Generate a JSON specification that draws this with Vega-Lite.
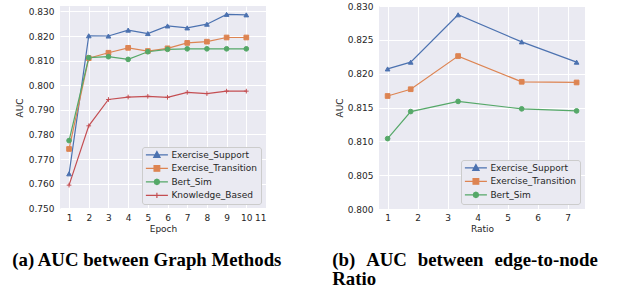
{
  "$schema": "https://vega.github.io/schema/vega-lite/v6.json",
  "background": "white",
  "padding": {"left": 12, "top": 2, "right": 0, "bottom": 0},
  "spacing": 49,
  "config": {
    "view": {"fill": "#eaeaf2", "stroke": null},
    "axis": {"grid": true, "gridColor": "#ffffff", "gridWidth": 1, "domain": false, "ticks": false, "labelFont": "DejaVu Sans", "labelFontSize": 9, "labelColor": "#262626", "titleFont": "DejaVu Sans", "titleFontSize": 9, "titleFontWeight": "normal", "titleColor": "#262626"},
    "legend": {"labelFont": "DejaVu Sans", "labelFontSize": 9, "labelColor": "#262626", "fillColor": "#eaeaf2", "strokeColor": "#cccccc", "cornerRadius": 2.5, "padding": 3.4, "rowPadding": 2.5, "symbolSize": 36, "symbolStrokeWidth": 1.2, "symbolOffset": 7, "labelOffset": 10, "symbolOpacity": 1, "orient": "bottom-right", "offset": 5, "title": null},
    "title": {"font": "Liberation Serif", "fontSize": 18.8, "fontWeight": "bold", "color": "#000000"}
  },
  "datasets": {
    "epoch": [
      {"Epoch": 1, "Method": "Exercise_Support", "AUC": 0.7640},
      {"Epoch": 2, "Method": "Exercise_Support", "AUC": 0.8201},
      {"Epoch": 3, "Method": "Exercise_Support", "AUC": 0.8200},
      {"Epoch": 4, "Method": "Exercise_Support", "AUC": 0.8224},
      {"Epoch": 5, "Method": "Exercise_Support", "AUC": 0.8210},
      {"Epoch": 6, "Method": "Exercise_Support", "AUC": 0.8241},
      {"Epoch": 7, "Method": "Exercise_Support", "AUC": 0.8233},
      {"Epoch": 8, "Method": "Exercise_Support", "AUC": 0.8248},
      {"Epoch": 9, "Method": "Exercise_Support", "AUC": 0.8288},
      {"Epoch": 10, "Method": "Exercise_Support", "AUC": 0.8286},
      {"Epoch": 1, "Method": "Exercise_Transition", "AUC": 0.7741},
      {"Epoch": 2, "Method": "Exercise_Transition", "AUC": 0.8110},
      {"Epoch": 3, "Method": "Exercise_Transition", "AUC": 0.8132},
      {"Epoch": 4, "Method": "Exercise_Transition", "AUC": 0.8152},
      {"Epoch": 5, "Method": "Exercise_Transition", "AUC": 0.8139},
      {"Epoch": 6, "Method": "Exercise_Transition", "AUC": 0.8150},
      {"Epoch": 7, "Method": "Exercise_Transition", "AUC": 0.8172},
      {"Epoch": 8, "Method": "Exercise_Transition", "AUC": 0.8177},
      {"Epoch": 9, "Method": "Exercise_Transition", "AUC": 0.8194},
      {"Epoch": 10, "Method": "Exercise_Transition", "AUC": 0.8194},
      {"Epoch": 1, "Method": "Bert_Sim", "AUC": 0.7775},
      {"Epoch": 2, "Method": "Bert_Sim", "AUC": 0.8112},
      {"Epoch": 3, "Method": "Bert_Sim", "AUC": 0.8116},
      {"Epoch": 4, "Method": "Bert_Sim", "AUC": 0.8105},
      {"Epoch": 5, "Method": "Bert_Sim", "AUC": 0.8136},
      {"Epoch": 6, "Method": "Bert_Sim", "AUC": 0.8146},
      {"Epoch": 7, "Method": "Bert_Sim", "AUC": 0.8148},
      {"Epoch": 8, "Method": "Bert_Sim", "AUC": 0.8148},
      {"Epoch": 9, "Method": "Bert_Sim", "AUC": 0.8148},
      {"Epoch": 10, "Method": "Bert_Sim", "AUC": 0.8148},
      {"Epoch": 1, "Method": "Knowledge_Based", "AUC": 0.7594},
      {"Epoch": 2, "Method": "Knowledge_Based", "AUC": 0.7835},
      {"Epoch": 3, "Method": "Knowledge_Based", "AUC": 0.7942},
      {"Epoch": 4, "Method": "Knowledge_Based", "AUC": 0.7952},
      {"Epoch": 5, "Method": "Knowledge_Based", "AUC": 0.7955},
      {"Epoch": 6, "Method": "Knowledge_Based", "AUC": 0.7951},
      {"Epoch": 7, "Method": "Knowledge_Based", "AUC": 0.7971},
      {"Epoch": 8, "Method": "Knowledge_Based", "AUC": 0.7966},
      {"Epoch": 9, "Method": "Knowledge_Based", "AUC": 0.7976},
      {"Epoch": 10, "Method": "Knowledge_Based", "AUC": 0.7976}
    ],
    "ratio": [
      {"Ratio": 1.0, "Method": "Exercise_Support", "AUC": 0.8207},
      {"Ratio": 1.77, "Method": "Exercise_Support", "AUC": 0.8217},
      {"Ratio": 3.35, "Method": "Exercise_Support", "AUC": 0.8287},
      {"Ratio": 5.47, "Method": "Exercise_Support", "AUC": 0.8247},
      {"Ratio": 7.3, "Method": "Exercise_Support", "AUC": 0.8217},
      {"Ratio": 1.0, "Method": "Exercise_Transition", "AUC": 0.8167},
      {"Ratio": 1.77, "Method": "Exercise_Transition", "AUC": 0.8177},
      {"Ratio": 3.35, "Method": "Exercise_Transition", "AUC": 0.8226},
      {"Ratio": 5.47, "Method": "Exercise_Transition", "AUC": 0.8188},
      {"Ratio": 7.3, "Method": "Exercise_Transition", "AUC": 0.8187},
      {"Ratio": 1.0, "Method": "Bert_Sim", "AUC": 0.8104},
      {"Ratio": 1.77, "Method": "Bert_Sim", "AUC": 0.8144},
      {"Ratio": 3.35, "Method": "Bert_Sim", "AUC": 0.8159},
      {"Ratio": 5.47, "Method": "Bert_Sim", "AUC": 0.8148},
      {"Ratio": 7.3, "Method": "Bert_Sim", "AUC": 0.8145}
    ]
  },
  "hconcat": [
    {
      "width": 206,
      "height": 203,
      "title": {"text": "(a) AUC between Graph Methods", "orient": "bottom", "anchor": "start", "frame": "bounds", "offset": 17.5, "dx": -3},
      "data": {"name": "epoch"},
      "encoding": {
        "x": {"field": "Epoch", "type": "quantitative", "scale": {"domain": [0.54, 11], "nice": false, "zero": false}, "axis": {"values": [1, 2, 3, 4, 5, 6, 7, 8, 9, 10, 11], "format": "d", "title": "Epoch", "labelPadding": 4, "titlePadding": 2}},
        "y": {"field": "AUC", "type": "quantitative", "scale": {"domain": [0.7497, 0.8322], "nice": false, "zero": false}, "axis": {"values": [0.75, 0.76, 0.77, 0.78, 0.79, 0.8, 0.81, 0.82, 0.83], "format": ".3f", "title": "AUC", "labelPadding": 6, "titlePadding": 4}}
      },
      "layer": [
        {"mark": {"type": "line", "strokeWidth": 1.2}, "encoding": {"color": {"field": "Method", "type": "nominal", "scale": {"domain": ["Exercise_Support", "Exercise_Transition", "Bert_Sim", "Knowledge_Based"], "range": ["#4c72b0", "#dd8452", "#55a868", "#c44e52"]}, "legend": null}}},
        {"mark": {"type": "point", "filled": true, "size": 22, "strokeWidth": 1, "opacity": 1}, "encoding": {
          "fill": {"field": "Method", "type": "nominal", "scale": {"domain": ["Exercise_Support", "Exercise_Transition", "Bert_Sim", "Knowledge_Based"], "range": ["#4c72b0", "#dd8452", "#55a868", "#c44e52"]}, "legend": null},
          "stroke": {"field": "Method", "type": "nominal", "scale": {"domain": ["Exercise_Support", "Exercise_Transition", "Bert_Sim", "Knowledge_Based"], "range": ["#4c72b0", "#dd8452", "#55a868", "#c44e52"]}, "legend": null},
          "shape": {"field": "Method", "type": "nominal", "scale": {"domain": ["Exercise_Support", "Exercise_Transition", "Bert_Sim", "Knowledge_Based"], "range": ["triangle-up", "square", "circle", "M-1,0H1M0,-1V1"]}, "legend": null}
        }},
        {"mark": {"type": "point", "opacity": 0}, "encoding": {
          "fill": {"field": "Method", "type": "nominal", "scale": {"domain": ["Exercise_Support", "Exercise_Transition", "Bert_Sim", "Knowledge_Based"], "range": ["#4c72b0", "#dd8452", "#55a868", "#c44e52"]}, "legend": {"orient": "bottom-right", "title": null}},
          "stroke": {"field": "Method", "type": "nominal", "scale": {"domain": ["Exercise_Support", "Exercise_Transition", "Bert_Sim", "Knowledge_Based"], "range": ["#4c72b0", "#dd8452", "#55a868", "#c44e52"]}, "legend": {"orient": "bottom-right", "title": null}},
          "shape": {"field": "Method", "type": "nominal", "scale": {"domain": ["Exercise_Support", "Exercise_Transition", "Bert_Sim", "Knowledge_Based"], "range": ["M-3.67,0H3.67M0,-1.1L1.05,0.8H-1.05Z", "M-3.67,0H3.67M-0.95,-0.95H0.95V0.95H-0.95Z", "M-3.67,0H3.67M0.9,0L0.64,0.64L0,0.9L-0.64,0.64L-0.9,0L-0.64,-0.64L0,-0.9L0.64,-0.64Z", "M-3.67,0H3.67M0,-0.9V0.9"]}, "legend": {"orient": "bottom-right", "title": null}}
        }}
      ],
      "resolve": {"scale": {"fill": "independent", "stroke": "independent", "shape": "independent"}}
    },
    {
      "width": 206,
      "height": 203,
      "title": {"text": ["(b)\u00a0\u00a0\u200aAUC\u00a0\u00a0\u200abetween\u00a0\u00a0\u200aedge-to-node", "Ratio"], "orient": "bottom", "anchor": "start", "frame": "bounds", "offset": 17.5, "dx": -3, "lineHeight": 19},
      "data": {"name": "ratio"},
      "encoding": {
        "x": {"field": "Ratio", "type": "quantitative", "scale": {"domain": [0.713, 7.58], "nice": false, "zero": false}, "axis": {"values": [1, 2, 3, 4, 5, 6, 7], "format": "d", "title": "Ratio", "labelPadding": 4, "titlePadding": 2}},
        "y": {"field": "AUC", "type": "quantitative", "scale": {"domain": [0.8, 0.83], "nice": false, "zero": false}, "axis": {"values": [0.8, 0.805, 0.81, 0.815, 0.82, 0.825, 0.83], "format": ".3f", "title": "AUC", "labelPadding": 6, "titlePadding": 3}}
      },
      "layer": [
        {"mark": {"type": "line", "strokeWidth": 1.2}, "encoding": {"color": {"field": "Method", "type": "nominal", "scale": {"domain": ["Exercise_Support", "Exercise_Transition", "Bert_Sim"], "range": ["#4c72b0", "#dd8452", "#55a868"]}, "legend": null}}},
        {"mark": {"type": "point", "filled": true, "size": 22, "strokeWidth": 1, "opacity": 1}, "encoding": {
          "fill": {"field": "Method", "type": "nominal", "scale": {"domain": ["Exercise_Support", "Exercise_Transition", "Bert_Sim"], "range": ["#4c72b0", "#dd8452", "#55a868"]}, "legend": null},
          "stroke": {"field": "Method", "type": "nominal", "scale": {"domain": ["Exercise_Support", "Exercise_Transition", "Bert_Sim"], "range": ["#4c72b0", "#dd8452", "#55a868"]}, "legend": null},
          "shape": {"field": "Method", "type": "nominal", "scale": {"domain": ["Exercise_Support", "Exercise_Transition", "Bert_Sim"], "range": ["triangle-up", "square", "circle"]}, "legend": null}
        }},
        {"mark": {"type": "point", "opacity": 0}, "encoding": {
          "fill": {"field": "Method", "type": "nominal", "scale": {"domain": ["Exercise_Support", "Exercise_Transition", "Bert_Sim"], "range": ["#4c72b0", "#dd8452", "#55a868"]}, "legend": {"orient": "bottom-right", "title": null}},
          "stroke": {"field": "Method", "type": "nominal", "scale": {"domain": ["Exercise_Support", "Exercise_Transition", "Bert_Sim"], "range": ["#4c72b0", "#dd8452", "#55a868"]}, "legend": {"orient": "bottom-right", "title": null}},
          "shape": {"field": "Method", "type": "nominal", "scale": {"domain": ["Exercise_Support", "Exercise_Transition", "Bert_Sim"], "range": ["M-3.67,0H3.67M0,-1.1L1.05,0.8H-1.05Z", "M-3.67,0H3.67M-0.95,-0.95H0.95V0.95H-0.95Z", "M-3.67,0H3.67M0.9,0L0.64,0.64L0,0.9L-0.64,0.64L-0.9,0L-0.64,-0.64L0,-0.9L0.64,-0.64Z"]}, "legend": {"orient": "bottom-right", "title": null}}
        }}
      ],
      "resolve": {"scale": {"fill": "independent", "stroke": "independent", "shape": "independent"}}
    }
  ]
}
